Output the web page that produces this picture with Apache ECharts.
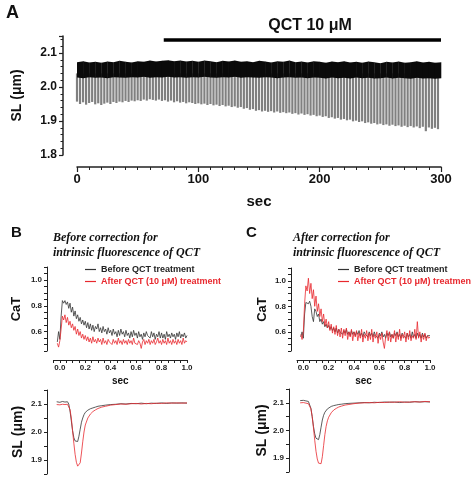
<!DOCTYPE html>
<html>
<head>
<meta charset="utf-8">
<script src="https://cdn.jsdelivr.net/npm/echarts@6/dist/echarts.min.js"></script>
<style>
  html, body { margin: 0; padding: 0; background: #fff; }
  #chart { width: 471px; height: 486px; }
</style>
</head>
<body>
<div id="chart"></div>
<script>
// ---- panel A: whole recording (sec, SL in um) ----
const BEAT_DT = 2.5;
const beatMin = [
  1.957, 1.950, 1.955, 1.948, 1.953, 1.956, 1.949, 1.952, 1.947, 1.951,
  1.954, 1.950, 1.956, 1.953, 1.957, 1.955, 1.959, 1.956, 1.960, 1.958,
  1.961, 1.959, 1.963, 1.960, 1.964, 1.962, 1.960, 1.963, 1.959, 1.961,
  1.957, 1.960, 1.955, 1.958, 1.954, 1.956, 1.952, 1.955, 1.953, 1.950,
  1.952, 1.949, 1.951, 1.947, 1.950, 1.946, 1.948, 1.944, 1.947, 1.943,
  1.945, 1.941, 1.943, 1.939, 1.941, 1.936, 1.938, 1.933, 1.935, 1.930,
  1.932, 1.928, 1.930, 1.927, 1.929, 1.925, 1.928, 1.924, 1.926, 1.923,
  1.925, 1.921, 1.923, 1.919, 1.922, 1.918, 1.920, 1.916, 1.918, 1.914,
  1.916, 1.912, 1.914, 1.909, 1.911, 1.907, 1.909, 1.904, 1.906, 1.902,
  1.904, 1.899, 1.901, 1.897, 1.899, 1.894, 1.896, 1.892, 1.894, 1.890,
  1.892, 1.888, 1.890, 1.886, 1.889, 1.885, 1.887, 1.883, 1.886, 1.882,
  1.885, 1.881, 1.884, 1.879, 1.883, 1.870, 1.881, 1.877, 1.880, 1.876
];
const BAND_DT = 5;
const bandTop = [
  2.073, 2.076, 2.072, 2.074, 2.071, 2.075, 2.073, 2.077, 2.074, 2.072,
  2.076, 2.074, 2.078, 2.075, 2.077, 2.079, 2.076, 2.078, 2.075, 2.077,
  2.074, 2.078, 2.076, 2.073, 2.077, 2.075, 2.078, 2.074, 2.076, 2.073,
  2.077, 2.075, 2.072, 2.076, 2.074, 2.078, 2.073, 2.075, 2.072, 2.076,
  2.074, 2.071, 2.075, 2.073, 2.076, 2.072, 2.074, 2.071, 2.075, 2.073,
  2.070, 2.074, 2.072, 2.075, 2.071, 2.073, 2.076, 2.072, 2.074, 2.071, 2.073
];
const bandLow = [
  2.028, 2.026, 2.029, 2.027, 2.028, 2.026, 2.029, 2.028, 2.027, 2.029,
  2.028, 2.030, 2.027, 2.029, 2.028, 2.030, 2.028, 2.029, 2.027, 2.029,
  2.028, 2.030, 2.028, 2.027, 2.029, 2.028, 2.030, 2.027, 2.029, 2.028,
  2.027, 2.029, 2.028, 2.026, 2.028, 2.029, 2.027, 2.028, 2.026, 2.028,
  2.027, 2.025, 2.028, 2.026, 2.027, 2.025, 2.028, 2.026, 2.027, 2.025,
  2.026, 2.028, 2.025, 2.027, 2.026, 2.024, 2.027, 2.025, 2.026, 2.024, 2.026
];
const qctBar = [[71.5, 2.138], [300, 2.138]];

// ---- panels B and C: single beat (sec) ----
const CAT_T0 = -0.02, CAT_DT = 0.01;
const bBeforeCaT = [
  0.52, 0.60, 0.54, 0.72, 0.84, 0.82, 0.84, 0.81, 0.83, 0.78,
  0.82, 0.75, 0.79, 0.72, 0.76, 0.70, 0.73, 0.68, 0.71, 0.66,
  0.69, 0.65, 0.68, 0.63, 0.67, 0.62, 0.66, 0.61, 0.65, 0.60,
  0.64, 0.62, 0.66, 0.60, 0.63, 0.59, 0.64, 0.60, 0.62, 0.58,
  0.63, 0.59, 0.61,
  0.57, 0.62, 0.58, 0.60, 0.56, 0.61, 0.57, 0.62, 0.58,
  0.60, 0.56, 0.61, 0.57, 0.59, 0.55, 0.60, 0.56, 0.61, 0.57,
  0.59, 0.55, 0.60, 0.56, 0.58, 0.54, 0.59, 0.56, 0.60, 0.57,
  0.58, 0.55, 0.60, 0.56, 0.59, 0.54, 0.58, 0.56, 0.60, 0.55,
  0.59, 0.55, 0.58, 0.54, 0.60, 0.56, 0.58, 0.55, 0.59, 0.56,
  0.58, 0.54, 0.59, 0.56, 0.60, 0.55, 0.58, 0.56, 0.59, 0.55, 0.57
];
const bAfterCaT = [
  0.51, 0.48, 0.53,
  0.62, 0.72, 0.69, 0.73, 0.67, 0.71, 0.65, 0.68, 0.63, 0.66,
  0.61, 0.64, 0.58, 0.62, 0.57, 0.60, 0.55, 0.58, 0.54, 0.57,
  0.53, 0.56, 0.52, 0.55, 0.51, 0.56, 0.52, 0.54, 0.51, 0.55,
  0.52, 0.54, 0.50, 0.55, 0.51, 0.53, 0.50, 0.54, 0.52, 0.53,
  0.50, 0.54, 0.51, 0.53, 0.50, 0.55, 0.51, 0.53, 0.50, 0.54,
  0.51, 0.53, 0.50, 0.54, 0.51, 0.53, 0.50, 0.55, 0.51, 0.52,
  0.50, 0.53, 0.51, 0.47, 0.52, 0.54, 0.50, 0.53, 0.51, 0.54,
  0.50, 0.53, 0.51, 0.54, 0.50, 0.52, 0.55, 0.51, 0.53, 0.50,
  0.54, 0.51, 0.53, 0.50, 0.55, 0.51, 0.53, 0.50, 0.54, 0.51,
  0.53, 0.50, 0.54, 0.51, 0.53, 0.50, 0.55, 0.51, 0.53, 0.52
];
const cBeforeCaT = [
  0.56, 0.60, 0.55,
  0.74, 0.83, 0.84, 0.82, 0.84, 0.80, 0.72, 0.68, 0.78, 0.76,
  0.72, 0.74, 0.68, 0.70, 0.66, 0.68, 0.64, 0.66, 0.63, 0.65,
  0.62, 0.64, 0.61, 0.63, 0.60, 0.63, 0.59, 0.62, 0.60, 0.61,
  0.58, 0.61, 0.59, 0.62, 0.58, 0.60, 0.57, 0.61, 0.58, 0.60,
  0.57, 0.60, 0.58, 0.61, 0.57, 0.59, 0.56, 0.60, 0.58, 0.59,
  0.56, 0.60, 0.57, 0.59, 0.56, 0.60, 0.57, 0.58, 0.55, 0.59,
  0.57, 0.60, 0.56, 0.58, 0.55, 0.59, 0.57, 0.60, 0.56, 0.58,
  0.55, 0.59, 0.57, 0.60, 0.56, 0.58, 0.55, 0.59, 0.57, 0.58,
  0.55, 0.59, 0.56, 0.58, 0.55, 0.60, 0.56, 0.58, 0.55, 0.59,
  0.56, 0.58, 0.55, 0.59, 0.56, 0.58, 0.55, 0.57, 0.56, 0.57
];
const cAfterCaT = [
  0.58, 0.54, 0.60,
  0.82, 0.96, 0.92, 1.02, 0.90, 0.98, 0.86, 0.93, 0.80, 0.88,
  0.76, 0.82, 0.72, 0.78, 0.68, 0.74, 0.65, 0.70, 0.63, 0.68,
  0.61, 0.66, 0.59, 0.64, 0.58, 0.65, 0.57, 0.62, 0.56, 0.63,
  0.55, 0.62, 0.57, 0.63, 0.54, 0.60, 0.56, 0.62, 0.53, 0.60,
  0.56, 0.61, 0.53, 0.59, 0.55, 0.62, 0.52, 0.58, 0.55, 0.61,
  0.53, 0.59, 0.54, 0.62, 0.52, 0.58, 0.55, 0.60, 0.51, 0.58,
  0.54, 0.59, 0.52, 0.47, 0.56, 0.61, 0.53, 0.60, 0.52, 0.58,
  0.55, 0.61, 0.52, 0.59, 0.54, 0.62, 0.53, 0.58, 0.55, 0.60,
  0.52, 0.59, 0.54, 0.61, 0.53, 0.57, 0.55, 0.62, 0.54, 0.68,
  0.55, 0.60, 0.52, 0.58, 0.54, 0.59, 0.53, 0.57, 0.55, 0.56
];
const slTime = [
  -0.025, -0.01, 0.0, 0.02, 0.04, 0.05, 0.06, 0.07, 0.08, 0.09, 0.10,
  0.11, 0.12, 0.13, 0.14, 0.15, 0.16, 0.17, 0.18, 0.19, 0.20,
  0.22, 0.24, 0.26, 0.28, 0.30, 0.33, 0.36, 0.40, 0.44, 0.48,
  0.52, 0.56, 0.60, 0.64, 0.68, 0.72, 0.76, 0.80, 0.84, 0.88, 0.92, 0.96, 1.0
];
const bBeforeSL = [
  2.108, 2.110, 2.106, 2.109, 2.107, 2.110, 2.108, 2.100, 2.075, 2.040, 2.005,
  1.980, 1.968, 1.963, 1.966, 1.985, 2.010, 2.035, 2.050, 2.062, 2.070,
  2.078, 2.083, 2.086, 2.089, 2.092, 2.094, 2.096, 2.098, 2.099, 2.101,
  2.100, 2.102, 2.101, 2.103, 2.101, 2.103, 2.102, 2.104, 2.102, 2.104, 2.103, 2.104, 2.103
];
const bAfterSL = [
  2.098, 2.100, 2.097, 2.099, 2.098, 2.100, 2.099, 2.095, 2.080, 2.050, 2.005,
  1.960, 1.920, 1.892, 1.878, 1.876, 1.890, 1.925, 1.965, 2.000, 2.025,
  2.050, 2.064, 2.073, 2.079, 2.084, 2.089, 2.092, 2.096, 2.098, 2.100,
  2.099, 2.101, 2.102, 2.100, 2.102, 2.101, 2.103, 2.102, 2.104, 2.103, 2.104, 2.103, 2.104
];
const cBeforeSL = [
  2.108, 2.106, 2.109, 2.107, 2.105, 2.098, 2.080, 2.050, 2.015, 1.988, 1.972,
  1.966, 1.967, 1.985, 2.012, 2.038, 2.055, 2.066, 2.073, 2.078, 2.082,
  2.087, 2.090, 2.092, 2.094, 2.095, 2.097, 2.098, 2.099, 2.100, 2.101,
  2.100, 2.102, 2.101, 2.103, 2.102, 2.103, 2.101, 2.103, 2.102, 2.104, 2.103, 2.104, 2.103
];
const cAfterSL = [
  2.100, 2.098, 2.101, 2.099, 2.097, 2.093, 2.078, 2.050, 2.010, 1.965, 1.925,
  1.897, 1.882, 1.877, 1.880, 1.905, 1.945, 1.985, 2.015, 2.035, 2.048,
  2.064, 2.074, 2.080, 2.085, 2.088, 2.092, 2.094, 2.097, 2.099, 2.100,
  2.101, 2.100, 2.102, 2.101, 2.103, 2.102, 2.104, 2.102, 2.103, 2.104, 2.103, 2.105, 2.104
];

const NAME_BEFORE = 'Before QCT treatment';
const NAME_AFTER = 'After QCT (10 μM) treatment';
const BLACK = '#333333';
const RED = '#e8282e';
const FONT = "'Liberation Sans', Arial, sans-serif";

const chart = echarts.init(document.getElementById('chart'));

// label only at multiples of step
function every(step) {
  return function (v) {
    const k = v / step;
    return Math.abs(k - Math.round(k)) < 1e-6 ? v.toFixed(1) : '';
  };
}

function catData(arr) {
  return arr.map((v, i) => [CAT_T0 + i * CAT_DT, v]);
}
function slData(arr) {
  return arr.map((v, i) => [slTime[i], v]);
}

function smallY(index, min, max, name, gap, offset, labStep) {
  return {
    gridIndex: index, type: 'value', min: min, max: max, interval: 0.05, offset: offset,
    name: name, nameLocation: 'middle', nameGap: gap, nameRotate: 90,
    nameTextStyle: { fontFamily: FONT, fontWeight: 'bold', fontSize: name === 'CaT' ? 13 : 14, color: '#111' },
    axisLine: { show: true, onZero: false, lineStyle: { color: '#222', width: 1 } },
    axisTick: { show: true, length: 3, lineStyle: { color: '#222' } },
    axisLabel: { formatter: every(labStep), fontFamily: FONT, fontWeight: 'bold', fontSize: 8, color: '#222', margin: 5 },
    splitLine: { show: false }
  };
}
function smallX(index, show) {
  return {
    gridIndex: index, type: 'value', min: -0.05, max: 1.0, interval: 0.05, offset: 9,
    show: show,
    name: 'sec', nameLocation: 'middle', nameGap: 16,
    nameTextStyle: { fontFamily: FONT, fontWeight: 'bold', fontSize: 10, color: '#111' },
    axisLine: { show: true, onZero: false, lineStyle: { color: '#222', width: 1 } },
    axisTick: { show: true, length: 3, lineStyle: { color: '#222' } },
    axisLabel: { formatter: every(0.2), fontFamily: FONT, fontWeight: 'bold', fontSize: 8, color: '#222', margin: 4 },
    splitLine: { show: false }
  };
}
function trace(name, color, x, y, data) {
  return {
    name: name, type: 'line', xAxisIndex: x, yAxisIndex: y, data: data,
    symbol: 'none', color: color, lineStyle: { width: 0.8, color: color }
  };
}
function grid(left, right, top, bottom) {
  return { left: left, right: right, top: top, bottom: bottom, containLabel: false, outerBoundsMode: 'none' };
}
function legendAt(left) {
  return {
    left: left, top: 265, orient: 'vertical', itemGap: 3, itemWidth: 11, itemHeight: 1.2, icon: 'rect',
    selectedMode: false, padding: 0,
    textStyle: { fontFamily: FONT, fontWeight: 'bold', fontSize: 9 },
    data: [{ name: NAME_BEFORE, textStyle: { color: '#222' } }, { name: NAME_AFTER, textStyle: { color: RED } }]
  };
}

const beatItems = beatMin.map((v, i) => [i * BEAT_DT, v, 2.04]);
const bandItems = [];
for (let i = 0; i < bandTop.length - 1; i++) {
  bandItems.push([i * BAND_DT, bandLow[i], bandTop[i], (i + 1) * BAND_DT, bandLow[i + 1], bandTop[i + 1]]);
}

const option = {
  animation: false,
  backgroundColor: '#fff',
  title: [
    { text: 'A', left: 1, top: -1, textStyle: { fontFamily: FONT, fontWeight: 'bold', fontSize: 18, color: '#111' } },
    { text: 'QCT 10 μM', left: 305, top: 13, textAlign: 'center', textStyle: { fontFamily: FONT, fontWeight: 'bold', fontSize: 16, color: '#111' } },
    { text: 'B', left: 6, top: 220, textStyle: { fontFamily: FONT, fontWeight: 'bold', fontSize: 15, color: '#111' } },
    { text: 'C', left: 241, top: 220, textStyle: { fontFamily: FONT, fontWeight: 'bold', fontSize: 15, color: '#111' } },
    { text: 'Before correction for\nintrinsic fluorescence of QCT', left: 48, top: 225,
      textStyle: { fontFamily: "'Liberation Serif', 'Times New Roman', serif", fontStyle: 'italic', fontWeight: 'bold', fontSize: 12, lineHeight: 15, color: '#111' } },
    { text: 'After correction for\nintrinsic fluorescence of QCT', left: 288, top: 225,
      textStyle: { fontFamily: "'Liberation Serif', 'Times New Roman', serif", fontStyle: 'italic', fontWeight: 'bold', fontSize: 12, lineHeight: 15, color: '#111' } }
  ],
  legend: [legendAt(85), legendAt(338)],
  grid: [
    grid(77, 30, 36, 331),
    grid(53.5, 284, 267, 135),
    grid(53.5, 284, 390, 12),
    grid(297, 41, 268, 135),
    grid(297, 41, 389, 14)
  ],
  xAxis: [
    {
      gridIndex: 0, type: 'value', min: 0, max: 300, interval: 100, offset: 12,
      name: 'sec', nameLocation: 'middle', nameGap: 27,
      nameTextStyle: { fontFamily: FONT, fontWeight: 'bold', fontSize: 15, color: '#111' },
      axisLine: { onZero: false, lineStyle: { color: '#222', width: 1.5 } },
      axisTick: { length: 5, lineStyle: { color: '#222', width: 1.2 } },
      minorTick: { show: true, splitNumber: 10, length: 3, lineStyle: { color: '#222' } },
      axisLabel: { fontFamily: FONT, fontWeight: 'bold', fontSize: 13, color: '#111', margin: 6 },
      splitLine: { show: false }
    },
    smallX(1, true),
    smallX(2, false),
    smallX(3, true),
    smallX(4, false)
  ],
  yAxis: [
    {
      gridIndex: 0, type: 'value', min: 1.8, max: 2.15, interval: 0.1, offset: 14,
      name: 'SL (μm)', nameLocation: 'middle', nameGap: 39, nameRotate: 90,
      nameTextStyle: { fontFamily: FONT, fontWeight: 'bold', fontSize: 14, color: '#111' },
      axisLine: { show: true, onZero: false, lineStyle: { color: '#222', width: 1.5 } },
      axisTick: { show: true, length: 4, lineStyle: { color: '#222', width: 1.2 } },
      minorTick: { show: true, splitNumber: 5, length: 2.5, lineStyle: { color: '#222' } },
      axisLabel: { formatter: every(0.1), fontFamily: FONT, fontWeight: 'bold', fontSize: 12, color: '#111', margin: 6 },
      splitLine: { show: false }
    },
    smallY(1, 0.45, 1.1, 'CaT', 24, 6.5, 0.2),
    smallY(2, 1.85, 2.15, 'SL (μm)', 22, 6.5, 0.1),
    smallY(3, 0.45, 1.1, 'CaT', 22, 6, 0.2),
    smallY(4, 1.85, 2.15, 'SL (μm)', 20, 8, 0.1)
  ],
  series: [
    {
      type: 'custom', xAxisIndex: 0, yAxisIndex: 0, data: beatItems,
      encode: { x: 0, y: [1, 2] },
      renderItem: function (params, api) {
        const top = api.coord([api.value(0), api.value(2)]);
        const bot = api.coord([api.value(0), api.value(1)]);
        return { type: 'rect', shape: { x: top[0] - 1.1, y: top[1], width: 2.2, height: bot[1] - top[1] }, style: { fill: '#808080' } };
      }
    },
    {
      type: 'custom', xAxisIndex: 0, yAxisIndex: 0, data: bandItems,
      encode: { x: [0, 3], y: [1, 2, 4, 5] },
      renderItem: function (params, api) {
        const a = api.coord([api.value(0), api.value(1)]);
        const b = api.coord([api.value(0), api.value(2)]);
        const c = api.coord([api.value(3), api.value(5)]);
        const d = api.coord([api.value(3), api.value(4)]);
        return { type: 'polygon', shape: { points: [a, b, [c[0] + 0.3, c[1]], [d[0] + 0.3, d[1]]] }, style: { fill: '#0a0a0a' } };
      }
    },
    {
      type: 'line', xAxisIndex: 0, yAxisIndex: 0, data: qctBar, symbol: 'none',
      lineStyle: { width: 3.5, color: '#000' }
    },
    trace(NAME_BEFORE, BLACK, 1, 1, catData(bBeforeCaT)),
    trace(NAME_AFTER, RED, 1, 1, catData(bAfterCaT)),
    trace('SL before B', BLACK, 2, 2, slData(bBeforeSL)),
    trace('SL after B', RED, 2, 2, slData(bAfterSL)),
    trace(NAME_BEFORE, BLACK, 3, 3, catData(cBeforeCaT)),
    trace(NAME_AFTER, RED, 3, 3, catData(cAfterCaT)),
    trace('SL before C', BLACK, 4, 4, slData(cBeforeSL)),
    trace('SL after C', RED, 4, 4, slData(cAfterSL))
  ]
};
chart.setOption(option);
</script>
</body>
</html>
